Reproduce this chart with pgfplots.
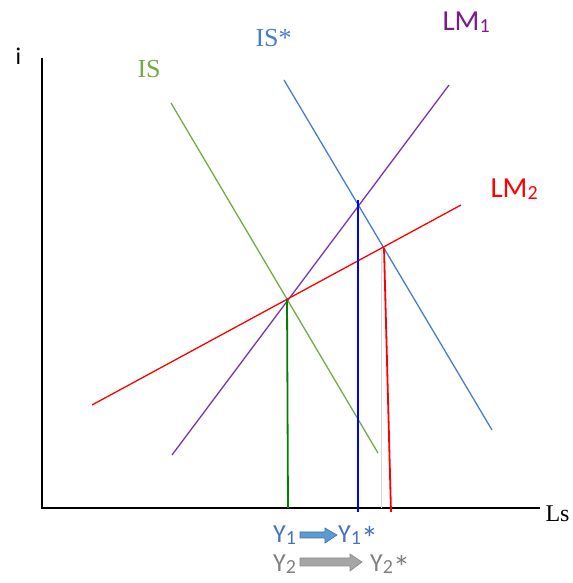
\documentclass[border=0pt]{standalone}
\usepackage{pgfplots}
\pgfplotsset{compat=1.18}
\usepackage{fontspec}
\setmainfont{Carlito}
\newfontfamily\tnr{Liberation Serif}
\usetikzlibrary{arrows.meta}
\definecolor{isgreen}{HTML}{70AD47}
\definecolor{isblue}{HTML}{4A7DC8}
\definecolor{lmpurple}{HTML}{7A35A8}
\definecolor{lmlabel}{HTML}{7A1A8C}
\definecolor{yblue}{HTML}{4472C4}
\definecolor{arrblue}{HTML}{5B9BD5}
\definecolor{arrblueedge}{HTML}{41719C}
\definecolor{ygray}{HTML}{808080}
\definecolor{arrgray}{HTML}{A5A5A5}
\definecolor{arrgrayedge}{HTML}{8C8C8C}
\definecolor{vgreen}{HTML}{008000}
\newcommand{\sub}[1]{\raisebox{-2pt}[\height][0pt]{\fontsize{20}{22}\selectfont #1}}
\newcommand{\bigast}{\raisebox{-8pt}[\height][0pt]{\fontsize{34}{34}\selectfont *}}
\begin{document}
\begin{tikzpicture}
\begin{axis}[
  width=570pt, height=583pt, scale only axis,
  xmin=0, xmax=570, ymin=0, ymax=583,
  axis lines=none, clip=false,
]
\path (rel axis cs:0,0) rectangle (rel axis cs:1,1);
% axes
\addplot[black, line width=1.5pt] coordinates {(42,525) (42,75) (540,75)};
% IS
\addplot[isgreen, line width=1.3pt] coordinates {(171,480) (378,130)};
% IS*
\addplot[isblue, line width=1.3pt] coordinates {(284,503) (492,153)};
% LM1
\addplot[lmpurple, line width=1.3pt] coordinates {(172,128) (449,498)};
% LM2
\addplot[red, line width=1.3pt] coordinates {(92,178) (461,378)};
% verticals
\addplot[gray!30, line width=1pt] coordinates {(381,333) (381,75)};
\addplot[vgreen, line width=1.8pt] coordinates {(287,283) (288,75)};
\addplot[blue, line width=1.8pt] coordinates {(358,383) (358,71)};
\addplot[red, line width=1.8pt] coordinates {(384,335) (391,71)};
% labels
\node[anchor=base west, font=\fontsize{24}{26}\selectfont] at (axis cs:12,518) {i};
\node[anchor=base west, font=\tnr\fontsize{26}{28}\selectfont, text=isgreen] at (axis cs:134,505) {IS};
\node[anchor=base west, font=\tnr\fontsize{26}{28}\selectfont, text=isblue] at (axis cs:252,536) {IS*};
\node[anchor=base west, font=\fontsize{29}{31}\selectfont, text=lmlabel] at (axis cs:439,552) {LM\sub{1}};
\node[anchor=base west, font=\fontsize{29}{31}\selectfont, text=red] at (axis cs:487,385) {LM\sub{2}};
\node[anchor=base west, font=\tnr\fontsize{24}{26}\selectfont] at (axis cs:542,61) {Ls};
\node[anchor=base west, font=\fontsize{26}{28}\selectfont, text=yblue, inner sep=0pt] at (axis cs:273,40) {Y\sub{1}};
\node[anchor=base west, font=\fontsize{26}{28}\selectfont, text=yblue, inner sep=0pt] at (axis cs:338,40) {Y\sub{1}\bigast};
\node[anchor=base west, font=\fontsize{26}{28}\selectfont, text=ygray, inner sep=0pt] at (axis cs:273,11) {Y\sub{2}};
\node[anchor=base west, font=\fontsize{26}{28}\selectfont, text=ygray, inner sep=0pt] at (axis cs:370,11) {Y\sub{2}\bigast};
% arrows
\filldraw[fill=arrblue, draw=arrblueedge, line width=0.6pt]
  (axis cs:300,51) -- (axis cs:325,51) -- (axis cs:325,55) -- (axis cs:337,48)
  -- (axis cs:325,40) -- (axis cs:325,45) -- (axis cs:300,45) -- cycle;
\filldraw[fill=arrgray, draw=arrgrayedge, line width=0.6pt]
  (axis cs:300,25) -- (axis cs:350,25) -- (axis cs:350,29) -- (axis cs:362,21)
  -- (axis cs:350,12) -- (axis cs:350,17) -- (axis cs:300,17) -- cycle;
\end{axis}
\end{tikzpicture}
\end{document}
